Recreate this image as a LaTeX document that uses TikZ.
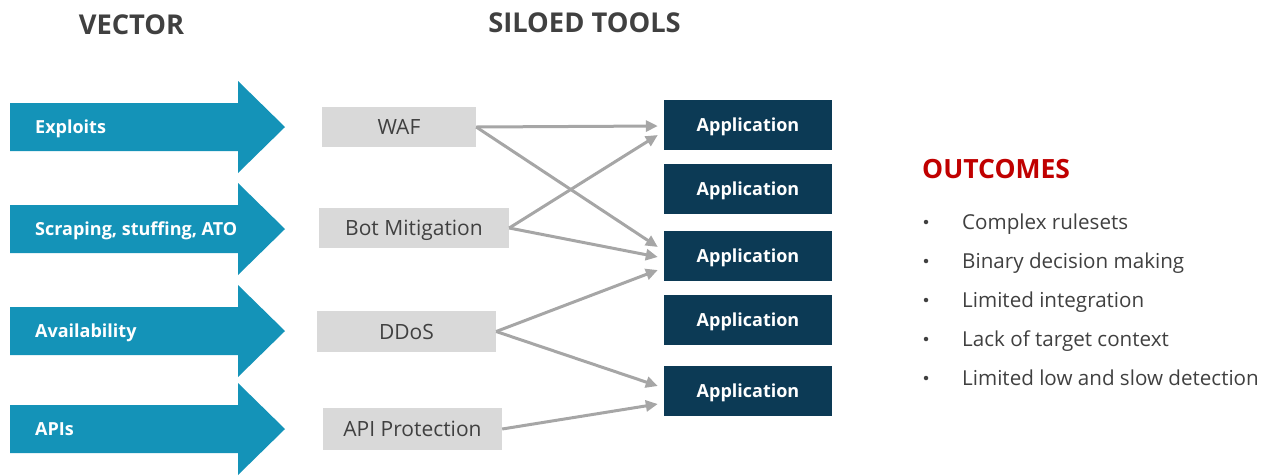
\documentclass[tikz,border=0pt]{standalone}
\usepackage{fontspec}
\setmainfont{Open Sans}
\usetikzlibrary{arrows.meta,calc}
\definecolor{vecblue}{HTML}{1493B8}
\definecolor{appnavy}{HTML}{0C3A55}
\definecolor{boxgray}{HTML}{D9D9D9}
\definecolor{txtgray}{HTML}{404040}
\definecolor{linegray}{HTML}{A6A6A6}
\definecolor{outred}{HTML}{C00000}
\tikzset{
  heading/.style={anchor=base, inner sep=0pt, text=txtgray, font=\fontsize{27.3}{30}\selectfont\bfseries},
  veclabel/.style={anchor=base west, inner sep=0pt, text=white, font=\fontsize{18}{20}\selectfont\bfseries},
  toolbox/.style={fill=boxgray, text=txtgray, inner sep=0pt, text height=15pt, text depth=0pt, font=\fontsize{21}{24}\selectfont},
  appbox/.style={fill=appnavy, text=white, inner sep=0pt, minimum width=168pt, minimum height=50pt, text height=13pt, text depth=0pt, font=\fontsize{18}{20}\selectfont\bfseries},
  conn/.style={draw=linegray, line width=3pt, -{Triangle[length=12pt,width=11pt]}},
  outtitle/.style={anchor=base west, inner sep=0pt, text=outred, font=\fontsize{26.5}{28}\selectfont\bfseries},
  item/.style={anchor=base west, inner sep=0pt, text=txtgray, font=\fontsize{20.6}{24}\selectfont},
  bul/.style={circle, fill=txtgray, inner sep=0pt, minimum size=4.5pt}
}
\begin{document}
\begin{tikzpicture}[x=1pt,y=-1pt]
\useasboundingbox (0,0) rectangle (1276,475);
% headings
\node[heading] (hvec) at (131.5,34) {VECTOR};
\node[heading] (hsil) at (584.5,32) {SILOED TOOLS};
% vector arrows
\foreach \cy/\nm/\lab in {127/v1/Exploits, 229/v2/{Scraping, stuffing, ATO}, 331/v3/Availability, 429/v4/APIs}{
  \fill[vecblue] (10,\cy-24) -- (238,\cy-24) -- (238,\cy-46) -- (285,\cy) -- (238,\cy+46) -- (238,\cy+24) -- (10,\cy+24) -- cycle;
  \node[veclabel] (\nm) at (35,\cy+6.5) {\lab};
}
% tools
\node[toolbox, minimum width=154pt, minimum height=40pt] (waf) at (399,127) {WAF};
\node[toolbox, minimum width=190pt, minimum height=40pt] (bot) at (414,228) {Bot Mitigation};
\node[toolbox, minimum width=179pt, minimum height=41pt] (ddos) at (406.5,331.5) {DDoS};
\node[toolbox, minimum width=179pt, minimum height=42pt] (api) at (412.5,429) {API Protection};
% applications
\node[appbox] (app1) at (748,125) {Application};
\node[appbox] (app2) at (748,189) {Application};
\node[appbox] (app3) at (748,256) {Application};
\node[appbox] (app4) at (748,319.5) {Application};
\node[appbox] (app5) at (748,391) {Application};
% connectors
\draw[conn] (waf.east) -- ($(app1.west)+(-6,1)$);
\draw[conn] (waf.east) -- ($(app3.west)+(-6,-9)$);
\draw[conn] (bot.east) -- ($(app1.west)+(-6,10)$);
\draw[conn] (bot.east) -- ($(app3.west)+(-6,1)$);
\draw[conn] (ddos.east) -- ($(app3.west)+(-6,14)$);
\draw[conn] (ddos.east) -- ($(app5.west)+(-6,-5)$);
\draw[conn] (api.east) -- ($(app5.west)+(-6,13)$);
% outcomes
\node[outtitle] (outc) at (922,178) {OUTCOMES};
\foreach \i/\t in {0/Complex rulesets, 1/Binary decision making, 2/Limited integration, 3/Lack of target context, 4/Limited low and slow detection}{
  \node[bul] (d\i) at (926,222+39*\i) {};
  \node[item] (o\i) at (962,229+39*\i) {\t};
}
\end{tikzpicture}
\end{document}
